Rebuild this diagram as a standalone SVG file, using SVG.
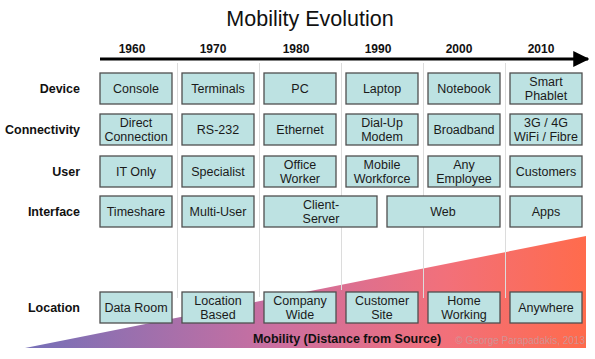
<svg xmlns="http://www.w3.org/2000/svg" width="595" height="359" viewBox="0 0 595 359">
<defs>
<linearGradient id="mob" x1="25" y1="0" x2="586" y2="0" gradientUnits="userSpaceOnUse">
<stop offset="0" stop-color="#7570b8"/>
<stop offset="0.45" stop-color="#cc6fa0"/>
<stop offset="0.75" stop-color="#f2707a"/>
<stop offset="1" stop-color="#ff6b4c"/>
</linearGradient>
<marker id="arr" markerWidth="5" markerHeight="5" refX="4.6" refY="2.5" orient="auto" markerUnits="strokeWidth">
<path d="M0,0 L5,2.5 L0,5 Z" fill="#000"/>
</marker>
<style>
.box{fill:#bde2e2;stroke:#4f4f4f;stroke-width:1.3}
.bt{font-family:"Liberation Sans",Arial,sans-serif;font-size:12.5px;fill:#1a1a1a;text-anchor:middle}
.lab{font-family:"Liberation Sans",Arial,sans-serif;font-size:12.5px;font-weight:bold;fill:#111;text-anchor:end}
.yr{font-family:"Liberation Sans",Arial,sans-serif;font-size:12px;font-weight:bold;fill:#111;text-anchor:middle}
.sep{stroke:#dcdcdc;stroke-width:1}
</style>
</defs>
<rect width="595" height="359" fill="#fff"/>
<polygon points="25,348 586,236 586,348" fill="url(#mob)"/>
<text x="310" y="26" font-family="'Liberation Sans',Arial,sans-serif" font-size="21.5" text-anchor="middle" fill="#111">Mobility Evolution</text>
<g id="years">
<text class="yr" x="132" y="53">1960</text>
<text class="yr" x="213" y="53">1970</text>
<text class="yr" x="296" y="53">1980</text>
<text class="yr" x="378" y="53">1990</text>
<text class="yr" x="459" y="53">2000</text>
<text class="yr" x="541" y="53">2010</text>
</g>
<g id="connectors">
<line x1="100" y1="59" x2="588" y2="59" stroke="#000" stroke-width="3.2" marker-end="url(#arr)"/>
<line class="sep" x1="177.5" y1="63" x2="177.5" y2="298"/>
<line class="sep" x1="259.5" y1="63" x2="259.5" y2="297"/>
<line class="sep" x1="341.5" y1="63" x2="341.5" y2="290"/>
<line class="sep" x1="423.5" y1="63" x2="423.5" y2="298"/>
<line class="sep" x1="505.5" y1="63" x2="505.5" y2="298"/>
</g>
<g id="labels">
<text class="lab" x="80" y="93">Device</text>
<text class="lab" x="80" y="134">Connectivity</text>
<text class="lab" x="80" y="176">User</text>
<text class="lab" x="80" y="216">Interface</text>
<text class="lab" x="80" y="312">Location</text>
</g>
<g id="device">
<g id="d1960"><rect class="box" x="100" y="73" width="72" height="31"/><text class="bt" x="136" y="93">Console</text></g>
<g id="d1970"><rect class="box" x="182" y="73" width="72" height="31"/><text class="bt" x="218" y="93">Terminals</text></g>
<g id="d1980"><rect class="box" x="264" y="73" width="72" height="31"/><text class="bt" x="300" y="93">PC</text></g>
<g id="d1990"><rect class="box" x="346" y="73" width="72" height="31"/><text class="bt" x="382" y="93">Laptop</text></g>
<g id="d2000"><rect class="box" x="428" y="73" width="72" height="31"/><text class="bt" x="464" y="93">Notebook</text></g>
<g id="d2010"><rect class="box" x="510" y="73" width="72" height="31"/><text class="bt" x="546" y="86">Smart</text><text class="bt" x="546" y="100">Phablet</text></g>
</g>
<g id="connectivity">
<g id="c1960"><rect class="box" x="100" y="114" width="72" height="31"/><text class="bt" x="136" y="127">Direct</text><text class="bt" x="136" y="141">Connection</text></g>
<g id="c1970"><rect class="box" x="182" y="114" width="72" height="31"/><text class="bt" x="218" y="134">RS-232</text></g>
<g id="c1980"><rect class="box" x="264" y="114" width="72" height="31"/><text class="bt" x="300" y="134">Ethernet</text></g>
<g id="c1990"><rect class="box" x="346" y="114" width="72" height="31"/><text class="bt" x="382" y="127">Dial-Up</text><text class="bt" x="382" y="141">Modem</text></g>
<g id="c2000"><rect class="box" x="428" y="114" width="72" height="31"/><text class="bt" x="464" y="134">Broadband</text></g>
<g id="c2010"><rect class="box" x="510" y="114" width="72" height="31"/><text class="bt" x="546" y="127">3G / 4G</text><text class="bt" x="546" y="141">WiFi / Fibre</text></g>
</g>
<g id="user">
<g id="u1960"><rect class="box" x="100" y="156" width="72" height="31"/><text class="bt" x="136" y="176">IT Only</text></g>
<g id="u1970"><rect class="box" x="182" y="156" width="72" height="31"/><text class="bt" x="218" y="176">Specialist</text></g>
<g id="u1980"><rect class="box" x="264" y="156" width="72" height="31"/><text class="bt" x="300" y="169">Office</text><text class="bt" x="300" y="183">Worker</text></g>
<g id="u1990"><rect class="box" x="346" y="156" width="72" height="31"/><text class="bt" x="382" y="169">Mobile</text><text class="bt" x="382" y="183">Workforce</text></g>
<g id="u2000"><rect class="box" x="428" y="156" width="72" height="31"/><text class="bt" x="464" y="169">Any</text><text class="bt" x="464" y="183">Employee</text></g>
<g id="u2010"><rect class="box" x="510" y="156" width="72" height="31"/><text class="bt" x="546" y="176">Customers</text></g>
</g>
<g id="interface">
<g id="i1960"><rect class="box" x="100" y="196" width="72" height="31"/><text class="bt" x="136" y="216">Timeshare</text></g>
<g id="i1970"><rect class="box" x="182" y="196" width="72" height="31"/><text class="bt" x="218" y="216">Multi-User</text></g>
<g id="i1980"><rect class="box" x="264" y="196" width="113" height="31"/><text class="bt" x="321" y="209">Client-</text><text class="bt" x="321" y="223">Server</text></g>
<g id="i1990"><rect class="box" x="387" y="196" width="113" height="31"/><text class="bt" x="443" y="216">Web</text></g>
<g id="i2010"><rect class="box" x="510" y="196" width="72" height="31"/><text class="bt" x="546" y="216">Apps</text></g>
</g>
<g id="location">
<g id="l1960"><rect class="box" x="100" y="292" width="72" height="31"/><text class="bt" x="136" y="312">Data Room</text></g>
<g id="l1970"><rect class="box" x="182" y="292" width="72" height="31"/><text class="bt" x="218" y="305">Location</text><text class="bt" x="218" y="319">Based</text></g>
<g id="l1980"><rect class="box" x="264" y="292" width="72" height="31"/><text class="bt" x="300" y="305">Company</text><text class="bt" x="300" y="319">Wide</text></g>
<g id="l1990"><rect class="box" x="346" y="292" width="72" height="31"/><text class="bt" x="382" y="305">Customer</text><text class="bt" x="382" y="319">Site</text></g>
<g id="l2000"><rect class="box" x="428" y="292" width="72" height="31"/><text class="bt" x="464" y="305">Home</text><text class="bt" x="464" y="319">Working</text></g>
<g id="l2010"><rect class="box" x="510" y="292" width="72" height="31"/><text class="bt" x="546" y="312">Anywhere</text></g>
</g>
<text x="347" y="343" font-family="'Liberation Sans',Arial,sans-serif" font-size="12.5" font-weight="bold" text-anchor="middle" fill="#111">Mobility (Distance from Source)</text>
<text x="585" y="344" font-family="'Liberation Sans',Arial,sans-serif" font-size="10" text-anchor="end" fill="#c99a9e" fill-opacity="0.85">© George Parapadakis, 2013</text>
</svg>
